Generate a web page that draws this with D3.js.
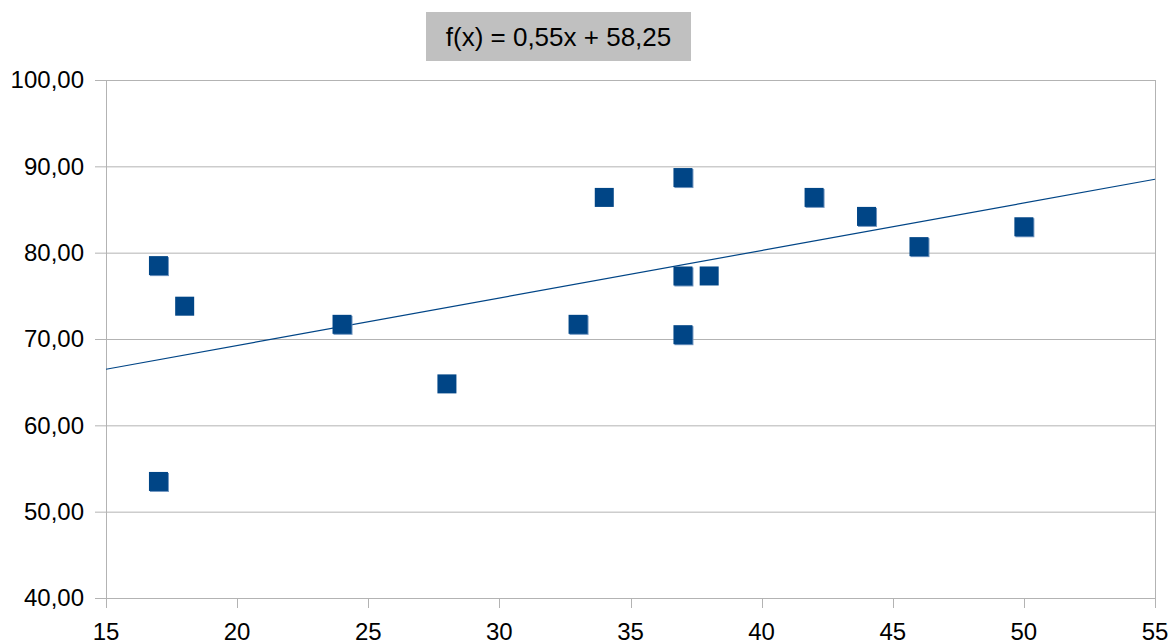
<!DOCTYPE html>
<html><head><meta charset="utf-8">
<script src="https://cdn.jsdelivr.net/npm/d3@7"></script>
<style>body{margin:0;background:#fff;} svg{display:block;}</style>
</head><body>
<script>
const xValues = [17, 17, 18, 24, 28, 33, 34, 37, 37, 37, 38, 42, 44, 46, 50];
const yValues = [78.5, 53.5, 73.8, 71.7, 64.8, 71.7, 86.4, 88.7, 77.3, 70.5, 77.3, 86.4, 84.2, 80.7, 83.0];
const doubled = [true, true, false, true, false, true, false, true, true, true, false, true, true, true, true];
const xTicks = [15, 20, 25, 30, 35, 40, 45, 50, 55];
const yTicks = [40, 50, 60, 70, 80, 90, 100];
const trendSlope = 0.55, trendIntercept = 58.25;
const equationLabel = "f(x) = 0,55x + 58,25";

const W = 1175, H = 644;
const m = {left: 106, right: 20, top: 80, bottom: 46};
const svg = d3.select("body").append("svg").attr("width", W).attr("height", H);
const x = d3.scaleLinear().domain([15, 55]).range([m.left, W - m.right]);
const y = d3.scaleLinear().domain([40, 100]).range([H - m.bottom, m.top]);
const font = "'Liberation Sans', Arial, sans-serif";
const fmt = v => d3.format(".2f")(v).replace(".", ",");

// gridlines
svg.append("g").selectAll("line").data(yTicks).join("line")
  .attr("x1", m.left - 11).attr("x2", W - m.right)
  .attr("y1", d => y(d) + 0.5).attr("y2", d => y(d) + 0.5)
  .attr("stroke", "#b3b3b3").attr("stroke-width", 1);
// vertical axis line & right border
svg.append("line").attr("x1", m.left + 0.5).attr("x2", m.left + 0.5)
  .attr("y1", m.top).attr("y2", H - m.bottom + 10).attr("stroke", "#b3b3b3");
svg.append("line").attr("x1", W - m.right + 0.5).attr("x2", W - m.right + 0.5)
  .attr("y1", m.top).attr("y2", H - m.bottom + 10).attr("stroke", "#b3b3b3");
// x ticks
svg.append("g").selectAll("line").data(xTicks).join("line")
  .attr("x1", d => Math.round(x(d)) + 0.5).attr("x2", d => Math.round(x(d)) + 0.5)
  .attr("y1", H - m.bottom).attr("y2", H - m.bottom + 10)
  .attr("stroke", "#b3b3b3");

// y labels
svg.append("g").selectAll("text").data(yTicks).join("text")
  .attr("x", m.left - 22).attr("y", d => y(d)).attr("dy", "0.35em")
  .attr("text-anchor", "end").attr("font-family", font).attr("font-size", 24)
  .attr("fill", "#000").text(fmt);
// x labels
svg.append("g").selectAll("text").data(xTicks).join("text")
  .attr("x", d => x(d)).attr("y", H - 4)
  .attr("text-anchor", "middle").attr("font-family", font).attr("font-size", 24)
  .attr("fill", "#000").text(d => d);

// trend line
svg.append("line")
  .attr("x1", x(15)).attr("y1", y(trendSlope * 15 + trendIntercept))
  .attr("x2", x(55)).attr("y2", y(trendSlope * 55 + trendIntercept))
  .attr("stroke", "#004586").attr("stroke-width", 1.2);

// points
const S = 19;
const pts = xValues.map((v, i) => ({x: v, y: yValues[i], d: doubled[i]}));
svg.append("g").selectAll("rect").data(pts.filter(p => p.d)).join("rect")
  .attr("x", p => x(p.x) - S / 2 + 1).attr("y", p => y(p.y) - S / 2 + 1)
  .attr("width", S).attr("height", S).attr("fill", "#6f94bf");
svg.append("g").selectAll("rect").data(pts).join("rect")
  .attr("x", p => x(p.x) - S / 2).attr("y", p => y(p.y) - S / 2)
  .attr("width", S).attr("height", S).attr("fill", "#004586");

// equation box
const bx = 426, bw = 265, by = 12, bh = 49;
svg.append("rect").attr("x", bx).attr("y", by).attr("width", bw).attr("height", bh).attr("fill", "#c0c0c0");
svg.append("text").attr("x", bx + bw / 2).attr("y", by + bh / 2).attr("dy", "0.35em")
  .attr("text-anchor", "middle").attr("font-family", font).attr("font-size", 26)
  .attr("fill", "#000").text(equationLabel);
</script>
</body></html>
